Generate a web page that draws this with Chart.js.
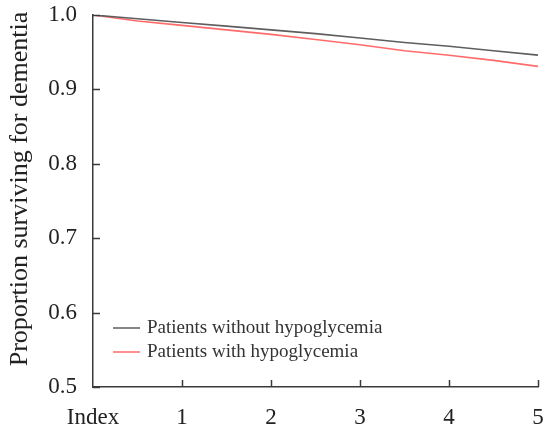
<!DOCTYPE html>
<html>
<head>
<meta charset="utf-8">
<script src="https://cdn.jsdelivr.net/npm/chart.js@4/dist/chart.umd.min.js"></script>
<style>
  html, body { margin: 0; padding: 0; background: #fff; }
  #wrap { width: 549px; height: 432px; position: relative; }
</style>
</head>
<body>
<div id="wrap"><canvas id="chart" width="549" height="432"></canvas></div>
<script>
// years of follow-up
const years = [0, 0.5, 1, 1.5, 2, 2.5, 3, 3.5, 4, 4.5, 5];
const without_hypo = [1.0, 0.995, 0.990, 0.985, 0.980, 0.975, 0.969, 0.963, 0.958, 0.952, 0.946];
const with_hypo = [1.0, 0.992, 0.986, 0.980, 0.974, 0.967, 0.960, 0.952, 0.946, 0.939, 0.931];
const series_labels = ["Patients without hypoglycemia", "Patients with hypoglycemia"];
const series_colors = ["#5e5e5e", "#ff6b6b"];
const y_ticks = [0.5, 0.6, 0.7, 0.8, 0.9, 1.0];
const x_ticks = [0, 1, 2, 3, 4, 5];

const serif = "'Liberation Serif', 'Times New Roman', serif";
const axis_color = "#3a3a3a";

function toPoints(xs, ys) {
    return xs.map((x, i) => ({ x: x, y: ys[i] }));
}

// inward tick marks + legend drawn inside the plot
const extras = {
    id: "extras",
    afterDraw(chart) {
        const ctx = chart.ctx;
        const xs = chart.scales.x, ys = chart.scales.y;
        const area = chart.chartArea;
        ctx.save();
        ctx.strokeStyle = axis_color;
        ctx.lineWidth = 1.5;
        y_ticks.forEach(v => {
            let py = Math.round(ys.getPixelForValue(v)) + 0.5;
            ctx.beginPath();
            ctx.moveTo(area.left, py);
            ctx.lineTo(area.left + 7, py);
            ctx.stroke();
        });
        x_ticks.forEach(v => {
            if (v == 0) return;
            let px = Math.round(xs.getPixelForValue(v)) + 0.5;
            ctx.beginPath();
            ctx.moveTo(px, area.bottom);
            ctx.lineTo(px, area.bottom - 7);
            ctx.stroke();
        });
        // legend
        ctx.font = "19px " + serif;
        ctx.textBaseline = "middle";
        ctx.textAlign = "left";
        let ly = [328, 352];
        series_labels.forEach((lab, i) => {
            ctx.strokeStyle = series_colors[i];
            ctx.lineWidth = 1.5;
            ctx.beginPath();
            ctx.moveTo(113, ly[i]);
            ctx.lineTo(140, ly[i]);
            ctx.stroke();
            ctx.fillStyle = "#333";
            ctx.fillText(lab, 147, ly[i]);
        });
        // y title, drawn by hand so it can sit a bit above centre like the original
        ctx.save();
        ctx.translate(20, 189);
        ctx.rotate(-Math.PI / 2);
        ctx.font = "26px " + serif;
        ctx.textAlign = "center";
        ctx.fillStyle = "#222";
        ctx.fillText("Proportion surviving for dementia", 0, 0);
        ctx.restore();
        ctx.restore();
    }
};

new Chart(document.getElementById("chart").getContext("2d"), {
    type: "line",
    data: {
        datasets: [
            {
                label: series_labels[0],
                data: toPoints(years, without_hypo),
                borderColor: series_colors[0],
                borderWidth: 1.6,
                pointRadius: 0,
                tension: 0
            },
            {
                label: series_labels[1],
                data: toPoints(years, with_hypo),
                borderColor: series_colors[1],
                borderWidth: 1.6,
                pointRadius: 0,
                tension: 0
            }
        ]
    },
    options: {
        responsive: false,
        animation: false,
        layout: { padding: { top: 15, right: 11, left: 0, bottom: 0 } },
        plugins: {
            legend: { display: false },
            tooltip: { enabled: false }
        },
        scales: {
            x: {
                type: "linear",
                min: 0,
                max: 5,
                afterBuildTicks: s => { s.ticks = x_ticks.map(v => ({ value: v })); },
                afterFit: s => { s.height = 45; s.paddingLeft = 0; s.paddingRight = 0; },
                grid: { display: false, drawTicks: false },
                border: { display: true, color: axis_color, width: 1.5 },
                ticks: {
                    padding: 17,
                    color: "#222",
                    font: { family: serif, size: 23 },
                    maxRotation: 0,
                    callback: v => v == 0 ? "Index" : String(v)
                }
            },
            y: {
                min: 0.5,
                max: 1.0,
                afterBuildTicks: s => { s.ticks = y_ticks.map(v => ({ value: v })); },
                afterFit: s => { s.width = 93; s.paddingTop = 0; s.paddingBottom = 0; },
                grid: { display: false, drawTicks: false },
                border: { display: true, color: axis_color, width: 1.5 },
                title: { display: false },
                ticks: {
                    padding: 16,
                    color: "#222",
                    font: { family: serif, size: 23 },
                    callback: v => v.toFixed(1)
                }
            }
        }
    },
    plugins: [extras]
});
</script>
</body>
</html>
